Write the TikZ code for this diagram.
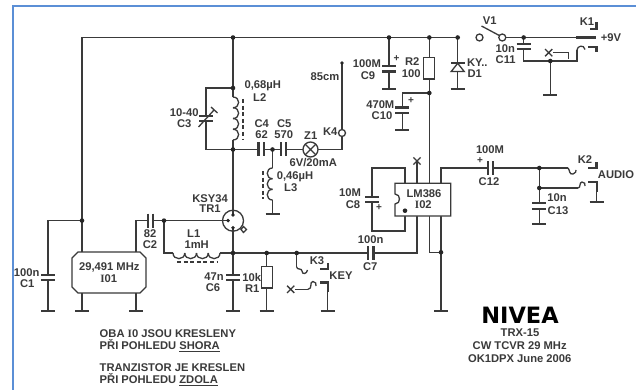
\documentclass[tikz,border=0pt]{standalone}
\usepackage{fontspec}
\setmainfont{Liberation Sans}
\newfontfamily\serfam{Liberation Serif}
\newfontfamily\heavyfam{DejaVu Sans}
\usetikzlibrary{calc}
\definecolor{ink}{HTML}{3A3A3A}
\definecolor{frameblue}{HTML}{5B8FD6}
\tikzset{
  x=1pt,y=-1pt,
  wire/.style={draw=ink,line width=1.3pt},
  fat/.style={draw=ink,line width=2.4pt},
  lbl/.style={text=ink,inner sep=0pt,font=\bfseries\fontsize{11.2}{12}\selectfont},
  note/.style={lbl,anchor=west,font=\bfseries\fontsize{11.2}{12}\selectfont},
  dot/.style={circle,fill=black!85,inner sep=0pt,minimum size=4.6pt},
  term/.style={circle,draw=ink,fill=white,line width=1.3pt,inner sep=0pt,minimum size=7pt},
  res/.style={rectangle,draw=ink,fill=white,line width=1.3pt,inner sep=0pt,minimum width=11pt,minimum height=21.5pt},
  core/.style={draw=ink,line width=1.1pt,dash pattern=on 4pt off 2.6pt}
}
\newcommand{\gnd}[1]{\draw[wire,line width=1.8pt] ($(#1)+(-7,0)$) -- ($(#1)+(7,0)$);}
\newcommand{\capH}[2]{\fill[white] ($(#1)+(-6,-2)$) rectangle ($(#1)+(6,2)$);\draw[wire,line width=2.1pt] ($(#1)+(-7,-2.7)$) -- ($(#1)+(7,-2.7)$) ($(#1)+(-7,2.7)$) -- ($(#1)+(7,2.7)$);}
\newcommand{\capV}[1]{\fill[white] ($(#1)+(-2,-6)$) rectangle ($(#1)+(2,6)$);\draw[wire,line width=2.1pt] ($(#1)+(-2.7,-7)$) -- ($(#1)+(-2.7,7)$) ($(#1)+(2.7,-7)$) -- ($(#1)+(2.7,7)$);}
\newcommand{\crossmark}[1]{\draw[wire] ($(#1)+(-3.6,-3.6)$) -- ($(#1)+(3.6,3.6)$) ($(#1)+(-3.6,3.6)$) -- ($(#1)+(3.6,-3.6)$);}
% x, y0, step, control offset, last index
\newcommand{\vcoil}[5]{\foreach \i in {0,...,#5}{\pgfmathsetmacro{\ya}{#2+\i*#3}\pgfmathsetmacro{\yb}{\ya+#3}\pgfmathsetmacro{\xc}{#1+#4}
 \draw[wire] (#1,\ya) .. controls (\xc,\ya) and (\xc,\yb) .. (#1,\yb);}}
\newcommand{\hcoil}[5]{\foreach \i in {0,...,#5}{\pgfmathsetmacro{\xa}{#2+\i*#3}\pgfmathsetmacro{\xb}{\xa+#3}\pgfmathsetmacro{\yc}{#1+#4}
 \draw[wire] (\xa,#1) .. controls (\xa,\yc) and (\xb,\yc) .. (\xb,#1);}}
\begin{document}
\begin{tikzpicture}
\useasboundingbox (0,0) rectangle (636,390);
\fill[white] (0,0) rectangle (636,390);
\draw[frameblue,line width=2pt] (12.5,390) -- (12.5,6.5) -- (636,6.5);

% ---- named points
\foreach \n/\x/\y in {
 tl/82/37.5, tq/233/37.5, t9/389/37.5, tr/429.3/37.5, td/457.7/37.5,
 jx/82/220.6, c1t/48/220.6, c1/48/277.5, c1g/48/311,
 xt1/82/252, xt2/136/252, xb1/82/293, xb2/136/293, g1/82/311, g2/136/311, xu/136/220.6,
 c2/150.5/220.6, j2/164/220.6, tb/228/220.6, l1d/164/253, l1a/173/253, l1b/220/253,
 jl2/233/88, l2a/233/97, l2b/233/140, jm/233/149.5, c3t/206/88, c3b/206/149.5, c3/206/118.7,
 te/233/215, tc/233/227.7, jb/233/253, c6/233/277.5, g6/233/311,
 c4/261.2/149.5, j3/272.5/149.5, c5/283.5/149.5, l3a/272.5/168, l3b/272.5/200, g3/272.5/214,
 k4t/342/63, k4a/342/129, k4b/342/137, k4c/342/149.5,
 jr/266.7/253, gr/266.7/311, jk/296.7/253, k3a/296.7/267,
 c7/370.8/253, p2b/417/253, p2/417/216, p1t/405/183.3, p1b/405/216, p3t/417/183.3, xm/417/161, p4t/429.3/183.3, p4b/429.3/216,
 p5t/441/183.3, p5b/441/216, c8t/405/168, c8u/372/168, c8/372/199.4, c8d/372/231, c8e/405/231,
 j5/441/252.3, p4j/429.3/252.3, g5/441/311,
 c9/389/68.8, g9/389/89, j10/429.3/93, c10t/402.3/93, c10/402.3/110.2, g10/402.3/130,
 dg/457.7/89, c12o/441/168, c12/490.5/168, j12/539.3/168, j13/539.3/188, c13/539.3/206, g13/539.3/224,
 k2a/568/168, k2c/578/188, k2d/596.7/181.7, g14/596.7/202,
 k1j/523.7/37.5, c11/523.7/46.3, c11b/523.7/61, j11/550.3/61, g11/550.3/95, k1r/577/61, k1q/577/50,
 xk/548.7/52.7, xka/553/52.7, xkb/568.7/52.7, xkc/568.7/59,
 xkey/290.7/289.3, xkeya/295/289.3, xkeyb/308/289.3, kgt/327.7/282.3, kg/327.7/311
}{\coordinate (\n) at (\x,\y);}

% ---- wiring
\draw[wire] (g1) -- (xb1) (xt1) -- (jx) -- (tl) -- (td);
\draw[wire] (jx) -- (c1t) -- (c1g);
\draw[wire] (g2) -- (xb2) (xt2) -- (xu) -- (c2) -- (j2) -- (tb);
\draw[wire] (j2) -- (l1d) -- (l1a) (l1b) -- (jb);
\draw[wire] (tq) -- (l2a) (l2b) -- (te);
\draw[wire] (tc) -- (g6);
\draw[wire] (jl2) -- (c3t) -- (c3b) -- (jm);
\draw[wire] (jm) -- (c4) -- (j3) -- (c5) -- (k4c) -- (k4b);
\draw[wire] (k4t) -- (k4a);
\draw[fat,line width=2pt] (342,121) -- (k4a);
\draw[wire] (j3) -- (l3a) (l3b) -- (g3);
\draw[wire] (jb) -- (jr) -- (jk) -- (c7) -- (p2b) -- (p2);
\draw[wire] (jr) -- (gr);
\draw[wire] (jk) -- (k3a);
\draw[wire] (p1t) -- (c8t) -- (c8u) -- (c8d) -- (c8e) -- (p1b);
\draw[wire] (p3t) -- (xm);
\draw[wire] (tr) -- (p4t) (p4b) -- (p4j) -- (j5);
\draw[wire] (p5b) -- (g5);
\draw[wire] (t9) -- (g9);
\draw[wire] (j10) -- (c10t) -- (g10);
\draw[wire] (td) -- (dg);
\draw[wire] (p5t) -- (c12o) -- (k2a);
\draw[wire] (j12) -- (g13);
\draw[wire] (j13) -- (k2c);
\draw[wire] (k2d) -- (g14);
\draw[wire] (k1j) -- (c11b) -- (k1r) -- (k1q);
\draw[wire] (j11) -- (g11);
\draw[wire] (xka) -- (xkb) -- (xkc);
\draw[wire] (xkeya) -- (xkeyb);
\draw[wire] (kgt) -- (kg);

% ---- grounds
\foreach \g in {c1g,g1,g2,g6,gr,g3,kg,g5,g9,g10,dg,g11,g13,g14}{\gnd{\g}}

% ---- capacitors
\capH{c1}{}\capH{c6}{}\capH{c3}{}\capH{c9}{}\capH{c10}{}\capH{c8}{}\capH{c13}{}\capH{c11}{}
\capV{c2}\capV{c4}\capV{c5}\capV{c7}\capV{c12}

% ---- C3 trimmer
\coordinate (c3v) at (198.5,127);\coordinate (c3w) at (214,110);
\coordinate (c3p) at (211,107);\coordinate (c3q) at (217.5,113);
\draw[wire] (c3v) -- (c3w) (c3p) -- (c3q);

% ---- coils
\vcoil{233}{97}{10.75}{7.5}{3}
\draw[core] (243,99) -- (243,139);
\vcoil{272.5}{168}{10.67}{-7}{2}
\draw[core] (263,171) -- (263,199);
\hcoil{253}{173}{11.75}{7.5}{3}
\draw[core] (177,262) -- (217,262);

% ---- crystal oscillator
\draw[wire] (78,252) -- (140,252) -- (146,258) -- (146,287) -- (140,293) -- (78,293) -- (72,287) -- (72,258) -- cycle;

% ---- transistor
\node[circle,draw=ink,line width=1.3pt,fill=none,minimum size=21pt,inner sep=0pt] (tr1) at (233,220.7) {};
\draw[wire,fill=white] (241,229.5) -- (243.5,226.5) -- (246.5,229.5) -- (243.5,232.5) -- cycle;
\foreach \p in {tb,te,tc}{\node[dot,minimum size=3.8pt] at (\p) {};}

% ---- resistors
\node[res] (r1) at (266.7,277.2) {};
\node[res] (r2) at (429.3,68.2) {};

% ---- lamp
\node[circle,draw=ink,fill=white,line width=1.3pt,minimum size=15pt,inner sep=0pt] (z1) at (310.5,149.5) {};
\draw[wire] ($(z1)+(-5.2,-5.2)$) -- ($(z1)+(5.2,5.2)$) ($(z1)+(-5.2,5.2)$) -- ($(z1)+(5.2,-5.2)$);

% ---- K4 ring
\node[circle,draw=ink,fill=white,line width=1.3pt,minimum size=7pt,inner sep=0pt] (k4) at (342,133) {};
\node[dot,minimum size=3.8pt] at (k4t) {};

% ---- diode
\draw[wire,fill=white] (457.7,63.3) -- (451.2,71.5) -- (464.2,71.5) -- cycle;
\draw[wire,line width=1.8pt] (451,63.3) -- (465,63.3);

% ---- IC
\draw[wire,fill=white] (395,183.3) -- (450.7,183.3) -- (450.7,216) -- (395,216) -- (395,204)
  .. controls (401,204) and (401,194) .. (395,194) -- cycle;
\node[dot] (pin1) at (405,210.7) {};

% ---- switch
\node[term] (v1a) at (479.5,37.5) {};
\node[term] (v1b) at (502.3,37.5) {};
\draw[wire] (v1a) ++(2,-11.5) -- ($(v1b)+(-3,-2)$);
\draw[wire] (v1b) -- (k1j);
\draw[wire] (k1j) -- (576,37.5);
\draw[fat] (576,37.5) -- (596,37.5);

% ---- jack contacts
\draw[wire] (k1q) .. controls (577,46) and (584,44) .. (585,49.5);
\draw[fat] (588,47) -- (596.3,47) -- (596.3,52.5);
\draw[fat] (590,29) -- (596.3,29) -- (596.3,22.5);
\draw[wire] (k2a) .. controls (570,170) and (569,175) .. (573,174) .. controls (576,173.5) and (576,171) .. (576,170);
\draw[wire] (k2c) .. controls (581,188) and (579,182) .. (582,182) .. controls (585,182) and (585,184) .. (585,186);
\draw[fat] (588,181.7) -- (596.7,181.7) -- (596.7,192);
\draw[fat] (588,168) -- (596.3,168) -- (596.3,162);
\draw[wire] (k3a) .. controls (296.7,270) and (302,268) .. (302,271) .. controls (302,275) and (307,274) .. (307.5,270);
\draw[wire] (xkeyb) .. controls (313,289) and (309,281.5) .. (313,281.5) .. controls (316,281.5) and (316,284) .. (316,286);
\draw[fat] (320,282.3) -- (327.7,282.3) -- (327.7,292);
\draw[fat] (320,269) -- (328,269) -- (328,263);

% ---- unconnected marks
\crossmark{xm}\crossmark{xk}\crossmark{xkey}

% ---- junction dots
\foreach \j in {jx,tq,jl2,jm,j2,jb,jr,jk,j3,t9,tr,td,j10,k1j,j11,j12,j13,j5}{\node[dot] at (\j) {};}

% ---- labels
\foreach \n/\x/\y/\t in {
 lc1a/26.7/273/100n, lc1b/27.3/284/C1, lc2a/150/234/82, lc2b/150/244.5/C2,
 ll1a/193.7/234/L1, ll1b/196.7/244.5/1mH,
 ll2a/262.7/85.7/{0,68µH}, ll2b/259.7/97.3/L2, lc3a/184.3/112.7/10-40, lc3b/184.3/123.3/C3,
 lc4a/261.7/124/C4, lc4b/261.7/134.3/62, lc5a/284.3/124/C5, lc5b/283.7/134.3/570,
 lz1a/310.7/136/Z1, lz1b/313.3/162.7/6V\slash 20mA, ll3a/295/176.7/{0,46µH}, ll3b/290.7/187.3/L3,
 ltra/210/198.3/KSY34, ltrb/210/209/TR1, lk4a/325/77/85cm, lk4b/330.3/131.7/K4,
 lc9a/367/64/100M, lc9b/368/75.5/C9, lr2a/412.3/62/R2, lr2b/411.3/73.3/100,
 ld1a/477.3/62.7/KY.., ld1b/474.7/73.3/D1, lc10a/380.3/104.5/470M, lc10b/382/115.5/C10,
 lv1/489.7/21/V1, lk1/587/21.5/K1, l9v/611/37.5/+9V, lc11a/505.3/49/10n, lc11b/505.7/59.5/C11,
 lc8a/350/193/10M, lc8b/353/205/C8, lc12a/490/149.5/100M, lc12b/489/182/C12,
 lk2/585/160/K2, lau/616/175/AUDIO, lc13a/557/198/10n, lc13b/558/211/C13,
 lk3/317/261/K3, lkey/341/276/KEY, lc7a/370.7/240/100n, lc7b/370.3/266.7/C7,
 lc6a/214/277/47n, lc6b/213/288/C6, lr1a/251.7/277/10k, lr1b/252.3/288.7/R1,
 lic/424/193.3/LM386, lxa/109.3/267.7/{29,491 MHz}
}{\node[lbl] (\n) at (\x,\y) {\t};}
\node[lbl] (lxb) at (108.7,279) {{\serfam I}01};
\node[lbl] (lid) at (423.3,204.3) {{\serfam I}02};

% ---- polarity
\foreach \n/\x/\y in {pc9/396.5/59, pc10/411/101, pc8/379/208, pc12/480/161}{\node[lbl,font=\bfseries\fontsize{10}{10}\selectfont] (\n) at (\x,\y) {+};}

% ---- notes
\node[note] (n1) at (99.5,333.5) {OBA {\serfam I}0 JSOU KRESLENY};
\node[note] (n2) at (99.5,346) {PŘI POHLEDU \underline{SHORA}};
\node[note] (n3) at (99.5,368) {TRANZISTOR JE KRESLEN};
\node[note] (n4) at (99.5,380) {PŘI POHLEDU \underline{ZDOLA}};

% ---- title
\node[lbl,text=black,font=\heavyfam\bfseries\fontsize{22.5}{26}\selectfont] (title) at (520,315) {NIVEA};
\node[lbl] (s1) at (520,333) {TRX-15};
\node[lbl] (s2) at (519.7,346) {CW TCVR 29 MHz};
\node[lbl] (s3) at (519.7,358.7) {OK1DPX June 2006};
\end{tikzpicture}
\end{document}
